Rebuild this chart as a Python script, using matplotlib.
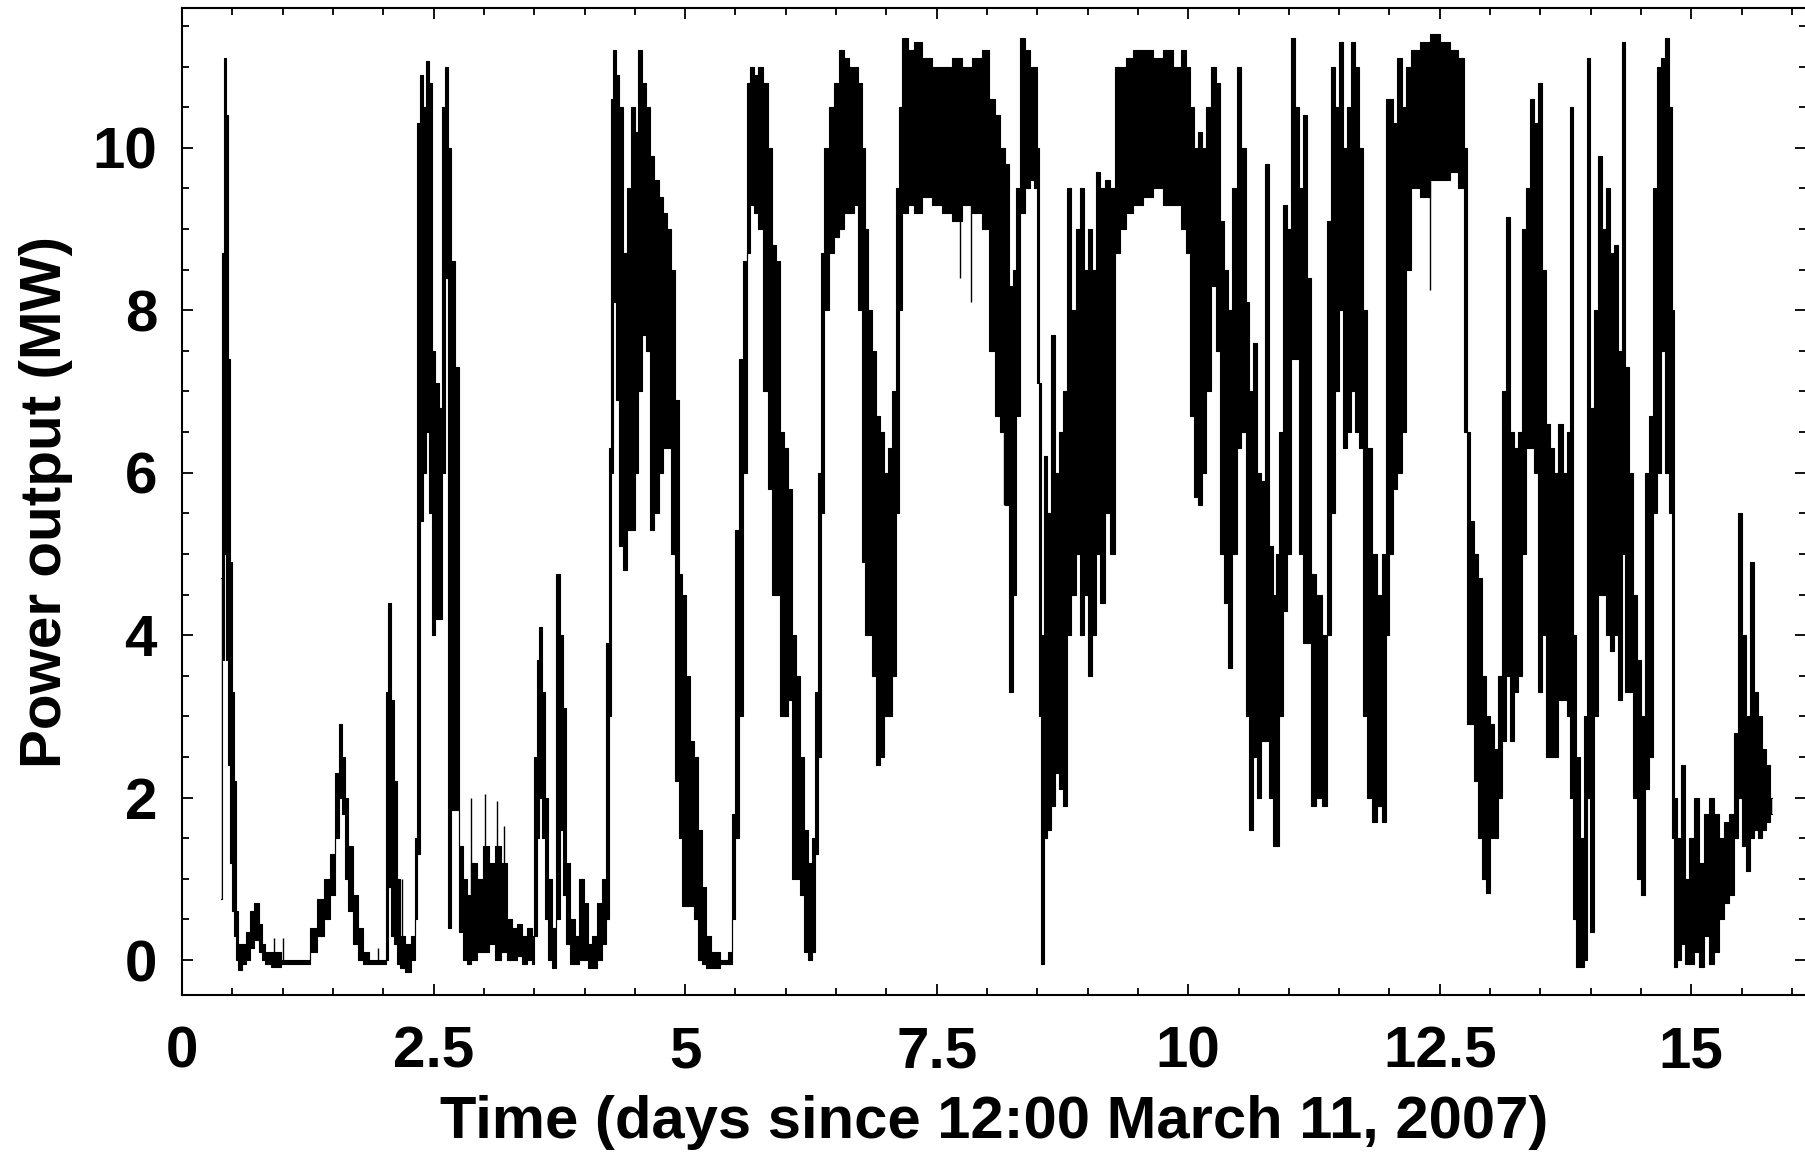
import matplotlib.pyplot as plt
from matplotlib.ticker import MultipleLocator, FormatStrFormatter

plt.rcParams['font.family'] = ['Liberation Sans', 'DejaVu Sans']
plt.rcParams['font.weight'] = 'bold'

# Wind farm power record, read off the figure as a min/max envelope
# time in days since 12:00 March 11 2007, power in MW
t_days = [
    0.39, 0.41, 0.43, 0.45, 0.47, 0.49, 0.51, 0.53, 0.55, 0.57,
    0.62, 0.66, 0.70, 0.74, 0.78, 0.80, 0.85, 0.92, 1.05, 1.25,
    1.30, 1.38, 1.45, 1.50, 1.54, 1.57, 1.60, 1.63, 1.67, 1.72,
    1.77, 1.82, 1.90, 2.02, 2.04, 2.06, 2.09, 2.12, 2.15, 2.18,
    2.25, 2.31, 2.33, 2.35, 2.38, 2.41, 2.44, 2.47, 2.50, 2.53,
    2.57, 2.60, 2.63, 2.66, 2.69, 2.73, 2.77, 2.81, 2.85, 2.90,
    2.96, 3.02, 3.08, 3.14, 3.20, 3.25, 3.30, 3.35, 3.40, 3.46,
    3.49, 3.51, 3.54, 3.56, 3.59, 3.62, 3.66, 3.70, 3.74, 3.77,
    3.80, 3.84, 3.88, 3.93, 3.97, 4.01, 4.05, 4.10, 4.15, 4.20,
    4.23, 4.25, 4.27, 4.30, 4.32, 4.36, 4.40, 4.44, 4.48, 4.52,
    4.55, 4.59, 4.63, 4.67, 4.72, 4.76, 4.80, 4.84, 4.88, 4.92,
    4.95, 4.99, 5.03, 5.07, 5.11, 5.15, 5.19, 5.22, 5.30, 5.40,
    5.46, 5.48, 5.52, 5.56, 5.60, 5.63, 5.66, 5.70, 5.75, 5.80,
    5.84, 5.88, 5.92, 5.96, 6.00, 6.04, 6.08, 6.12, 6.16, 6.20,
    6.25, 6.28, 6.31, 6.34, 6.37, 6.40, 6.45, 6.50, 6.55, 6.60,
    6.65, 6.70, 6.74, 6.77, 6.80, 6.84, 6.88, 6.92, 6.96, 7.00,
    7.04, 7.08, 7.11, 7.14, 7.18, 7.25, 7.30, 7.40, 7.50, 7.60,
    7.70, 7.80, 7.90, 8.00, 8.05, 8.10, 8.15, 8.20, 8.24, 8.27,
    8.31, 8.35, 8.40, 8.45, 8.49, 8.51, 8.53, 8.55, 8.58, 8.62,
    8.66, 8.70, 8.74, 8.78, 8.82, 8.86, 8.90, 8.94, 8.98, 9.02,
    9.06, 9.10, 9.15, 9.20, 9.25, 9.29, 9.35, 9.41, 9.50, 9.60,
    9.70, 9.80, 9.90, 9.95, 10.00, 10.04, 10.08, 10.12, 10.16, 10.20,
    10.25, 10.30, 10.34, 10.38, 10.42, 10.46, 10.50, 10.55, 10.59, 10.62,
    10.66, 10.70, 10.74, 10.78, 10.82, 10.86, 10.89, 10.92, 10.96, 11.00,
    11.04, 11.08, 11.12, 11.16, 11.20, 11.25, 11.30, 11.35, 11.40, 11.44,
    11.48, 11.52, 11.56, 11.60, 11.64, 11.68, 11.72, 11.76, 11.80, 11.85,
    11.90, 11.95, 11.98, 12.02, 12.06, 12.10, 12.14, 12.18, 12.25, 12.35,
    12.45, 12.55, 12.65, 12.72, 12.76, 12.79, 12.82, 12.86, 12.90, 12.94,
    12.98, 13.02, 13.06, 13.10, 13.14, 13.18, 13.22, 13.26, 13.30, 13.34,
    13.38, 13.42, 13.46, 13.50, 13.54, 13.58, 13.62, 13.66, 13.70, 13.74,
    13.78, 13.81, 13.84, 13.87, 13.91, 13.95, 13.98, 14.01, 14.05, 14.09,
    14.13, 14.17, 14.21, 14.25, 14.29, 14.33, 14.36, 14.40, 14.44, 14.48,
    14.52, 14.56, 14.60, 14.64, 14.68, 14.72, 14.76, 14.79, 14.82, 14.84,
    14.88, 14.92, 14.96, 15.00, 15.05, 15.10, 15.15, 15.20, 15.25, 15.30,
    15.35, 15.40, 15.45, 15.48, 15.52, 15.56, 15.60, 15.64, 15.68, 15.72,
    15.76, 15.80,
]
p_low = [
    0.75, 3.7, 5.0, 3.7, 2.4, 1.2, 0.6, 0.3, 0.0, -0.12,
    -0.05, 0.0, 0.15, 0.25, 0.1, 0.0, -0.05, -0.08, -0.05, -0.05,
    0.1, 0.3, 0.5, 0.8, 1.5, 2.0, 1.8, 1.0, 0.6, 0.2,
    0.0, -0.05, -0.05, -0.05, 0.0, 0.9, 0.3, 0.2, -0.05, -0.1,
    -0.15, 0.0, 0.5, 1.3, 5.4, 6.0, 6.5, 5.5, 4.0, 4.2,
    4.2, 6.0, 8.4, 0.4, 1.85, 1.85, 0.35, 0.0, -0.05, 0.0,
    0.1, 0.1, 0.2, 0.0, 0.1, 0.0, 0.0, 0.05, -0.05, 0.0,
    -0.05, 0.3, 1.5, 2.0, 1.5, 0.5, 0.0, -0.1, 0.5, 1.6,
    0.8, 0.2, -0.05, -0.05, 0.0, 0.0, -0.1, -0.1, 0.0, 0.2,
    0.5, 3.0, 6.0, 8.1, 6.9, 5.1, 4.8, 5.3, 5.3, 6.0,
    7.0, 7.7, 7.5, 5.3, 5.5, 6.0, 6.3, 6.3, 5.0, 2.2,
    1.5, 0.67, 0.67, 0.67, 0.5, 0.0, -0.05, -0.1, -0.1, -0.05,
    -0.05, 0.5, 1.5, 3.0, 6.0, 8.7, 9.3, 9.2, 9.0, 7.0,
    5.8, 4.5, 4.5, 3.0, 3.0, 3.2, 1.0, 1.0, 0.8, 0.1,
    0.0, 0.1, 1.3, 2.5, 5.5, 8.0, 8.7, 8.9, 9.0, 9.2,
    9.2, 9.3, 8.0, 4.9, 4.0, 4.0, 3.5, 2.4, 2.5, 3.0,
    3.0, 3.5, 5.5, 8.0, 9.2, 9.3, 9.2, 9.4, 9.3, 9.2,
    9.1, 9.3, 9.2, 9.0, 7.5, 6.7, 6.5, 5.6, 3.3, 4.5,
    6.7, 9.2, 9.5, 9.6, 9.5, 7.1, 3.0, -0.05, 1.5, 1.6,
    1.9, 2.3, 2.1, 1.9, 4.0, 4.5, 5.0, 4.0, 4.5, 3.5,
    4.0, 5.0, 4.4, 5.5, 5.0, 8.7, 9.0, 9.2, 9.3, 9.4,
    9.5, 9.3, 9.3, 9.0, 8.7, 6.7, 5.7, 5.6, 6.0, 7.0,
    8.3, 7.5, 5.0, 4.4, 3.6, 5.0, 6.3, 6.5, 3.0, 1.6,
    2.5, 2.0, 2.7, 2.7, 2.0, 1.4, 1.4, 3.0, 4.3, 5.0,
    7.4, 7.4, 5.0, 3.9, 3.9, 1.9, 2.0, 1.9, 4.0, 5.5,
    7.0, 8.0, 6.3, 6.5, 7.0, 6.5, 6.3, 3.0, 2.0, 1.7,
    1.9, 1.7, 4.0, 5.0, 5.8, 6.0, 6.5, 8.5, 9.5, 9.4,
    9.6, 9.6, 9.7, 9.5, 6.5, 2.9, 2.9, 2.2, 1.5, 1.0,
    0.82, 1.5, 1.5, 2.0, 2.7, 3.5, 2.7, 3.3, 3.5, 5.0,
    6.3, 6.3, 6.0, 3.3, 4.0, 2.5, 2.5, 2.5, 3.2, 3.2,
    3.0, 2.0, 0.5, -0.08, -0.08, 0.0, 2.0, 0.35, 3.0, 4.5,
    4.5, 4.0, 3.8, 4.0, 3.2, 5.0, 3.3, 3.3, 2.0, 1.0,
    0.8, 2.1, 2.5, 5.5, 6.0, 7.5, 6.0, 5.5, 1.5, -0.08,
    0.0, 0.2, -0.05, -0.05, 0.1, -0.08, 0.3, -0.05, 0.1, 0.5,
    0.7, 0.8, 1.5, 2.0, 1.4, 1.1, 1.5, 1.6, 1.5, 1.6,
    1.7, 1.8,
]
p_high = [
    4.7, 8.7, 11.1, 10.4, 7.4, 4.9, 3.3, 2.2, 0.6, 0.2,
    0.2, 0.35, 0.6, 0.7, 0.45, 0.2, 0.1, 0.1, 0.0, 0.0,
    0.4, 0.75, 1.0, 1.3, 2.3, 2.9, 2.5, 2.0, 1.4, 0.8,
    0.4, 0.1, 0.0, 0.0, 3.3, 4.4, 3.2, 2.2, 1.0, 0.3,
    0.2, 0.3, 1.5, 10.3, 10.9, 10.5, 11.07, 10.8, 7.5, 7.1,
    6.8, 10.5, 11.0, 10.0, 8.6, 7.3, 1.4, 1.0, 0.8, 1.2,
    1.0, 1.4, 1.2, 1.4, 1.2, 0.5, 0.4, 0.45, 0.3, 0.4,
    0.3, 2.5, 3.7, 4.1, 3.3, 2.0, 1.0, 0.4, 4.75, 4.0,
    3.1, 1.2, 0.5, 0.3, 1.0, 0.7, 0.2, 0.3, 0.7, 1.0,
    3.9, 6.3, 10.6, 11.2, 10.9, 10.5, 8.7, 9.5, 10.5, 10.2,
    11.2, 10.8, 10.5, 9.9, 9.6, 9.4, 9.2, 9.0, 8.5, 6.9,
    4.75, 4.5, 3.5, 2.7, 2.5, 1.6, 0.9, 0.3, 0.1, 0.0,
    0.1, 1.8, 5.3, 7.4, 8.6, 10.8, 11.0, 10.9, 11.0, 10.8,
    10.0, 8.8, 8.6, 6.5, 6.3, 5.8, 4.0, 3.5, 2.5, 1.6,
    1.2, 1.5, 3.3, 6.0, 8.7, 10.0, 10.5, 10.8, 11.2, 11.1,
    11.0, 11.0, 10.8, 10.0, 9.0, 8.0, 7.5, 6.7, 6.5, 6.0,
    6.3, 7.0, 9.5, 10.5, 11.35, 11.2, 11.3, 11.1, 11.0, 11.0,
    11.1, 11.0, 11.1, 11.2, 10.6, 10.4, 10.0, 9.8, 8.3, 8.5,
    9.5, 11.35, 11.2, 11.0, 11.0, 10.0, 7.1, 4.0, 6.2, 5.5,
    7.7, 6.0, 6.5, 7.0, 9.5, 8.0, 9.0, 9.5, 8.5, 9.0,
    8.5, 9.7, 9.5, 9.6, 9.5, 11.0, 11.0, 11.1, 11.2, 11.2,
    11.1, 11.2, 11.0, 11.2, 11.0, 10.5, 10.0, 10.2, 10.0, 10.5,
    11.0, 10.8, 9.1, 8.5, 8.0, 9.5, 11.0, 10.0, 8.1, 7.0,
    7.6, 6.0, 5.9, 9.8, 5.1, 4.5, 5.0, 6.5, 9.3, 9.0,
    11.35, 10.5, 9.5, 10.4, 8.4, 4.75, 4.5, 4.0, 9.1, 11.0,
    10.5, 11.3, 10.0, 10.5, 11.3, 11.0, 10.0, 8.0, 6.3, 5.0,
    4.5, 5.0, 10.6, 10.6, 10.3, 11.1, 10.5, 11.0, 11.2, 11.3,
    11.4, 11.3, 11.2, 11.1, 10.0, 6.5, 5.4, 5.0, 4.7, 3.5,
    3.0, 2.9, 2.6, 3.5, 7.0, 9.15, 6.5, 6.3, 6.5, 9.0,
    9.5, 10.6, 10.3, 10.8, 8.5, 6.6, 6.3, 6.0, 6.6, 6.0,
    6.5, 10.5, 4.0, 2.5, 1.5, 3.0, 11.1, 6.8, 8.0, 9.9,
    9.0, 9.5, 8.7, 8.8, 7.5, 11.3, 7.3, 6.0, 4.5, 3.7,
    3.0, 6.0, 6.7, 9.5, 11.0, 11.1, 11.35, 10.5, 8.0, 2.0,
    1.5, 2.4, 1.0, 1.5, 2.0, 1.2, 1.8, 2.0, 1.8, 1.5,
    1.7, 1.8, 2.8, 5.5, 4.0, 3.0, 4.9, 3.3, 3.0, 2.6,
    2.4, 2.0,
]

# single-sample excursions sticking out of the envelope
spike_t = [0.91, 1.00, 1.95, 2.19, 2.87, 3.01, 3.13, 3.20, 7.73, 7.84, 8.17, 12.40]
spike_lo = [-0.05, -0.05, -0.05, -0.1, 0.0, 0.1, 0.1, 0.1, 8.4, 8.1, 5.6, 8.25]
spike_hi = [0.27, 0.27, 0.15, 1.0, 2.0, 2.05, 1.96, 1.65, 10.0, 10.0, 8.0, 10.0]

fig = plt.figure(figsize=(18.06, 11.52), dpi=100)
ax = fig.add_axes([0.1008, 0.1363, 0.8992, 0.8567])

ax.fill_between(t_days, p_low, p_high, step='mid', color='black', lw=0)
ax.step(t_days, p_low, where='mid', color='black', lw=0.8)
ax.step(t_days, p_high, where='mid', color='black', lw=0.8)
ax.vlines(spike_t, spike_lo, spike_hi, color='black', lw=1.0)

ax.set_xlim(0, 16.14)
ax.set_ylim(-0.43, 11.72)
ax.xaxis.set_major_locator(MultipleLocator(2.5))
ax.xaxis.set_minor_locator(MultipleLocator(0.5))
ax.xaxis.set_major_formatter(FormatStrFormatter('%g'))
ax.yaxis.set_major_locator(MultipleLocator(2))
ax.yaxis.set_minor_locator(MultipleLocator(0.5))

ax.tick_params(which='both', direction='in', top=True, right=True, width=1.3,
               labelsize=42)
ax.tick_params(which='major', length=8)
ax.tick_params(which='minor', length=5)
ax.tick_params(axis='x', pad=22)
ax.tick_params(axis='y', pad=18)
for side in ['left', 'bottom', 'top']:
    ax.spines[side].set_linewidth(1.5)
ax.spines['right'].set_visible(False)

ax.set_xlabel('Time (days since 12:00 March 11, 2007)', fontsize=43,
              fontweight='bold', labelpad=11)
ax.set_ylabel('Power output (MW)', fontsize=42, fontweight='bold', labelpad=14)

fig.savefig('out.png', dpi=100)
